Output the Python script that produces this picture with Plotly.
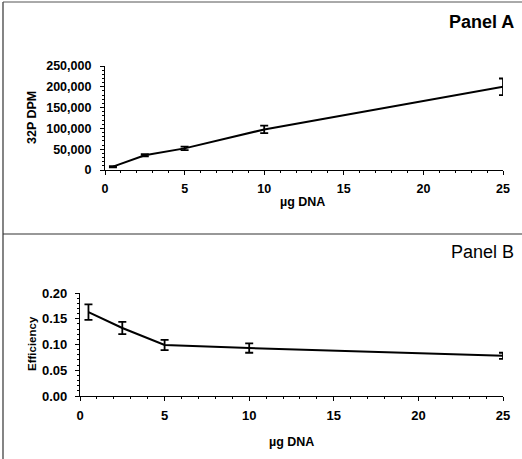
import plotly.graph_objects as go

# Panel A data
dna_a = [0.5, 2.5, 5, 10, 25]
dpm = [8000, 35500, 52000, 97500, 200000]
dpm_err = [1500, 2500, 4000, 9000, 20000]

# Panel B data
dna_b = [0.5, 2.5, 5, 10, 25]
eff = [0.163, 0.132, 0.099, 0.093, 0.078]
eff_err = [0.015, 0.012, 0.010, 0.009, 0.006]

W, H = 522, 459
FONT = "Liberation Sans, Arial, sans-serif"

fig = go.Figure()
fig.add_trace(go.Scatter(
    x=dna_a, y=dpm, mode="lines", line=dict(color="black", width=2),
    error_y=dict(type="data", array=dpm_err, color="black", thickness=1.8, width=4),
    xaxis="x", yaxis="y", showlegend=False))
fig.add_trace(go.Scatter(
    x=dna_b, y=eff, mode="lines", line=dict(color="black", width=2),
    error_y=dict(type="data", array=eff_err, color="black", thickness=1.8, width=4),
    xaxis="x2", yaxis="y2", showlegend=False))

def px_x(p):
    return p / W

def px_y(p):
    return (H - p) / H

def tf(size):
    return dict(family=FONT, size=size, color="black", weight="bold")

def xaxis_cfg(lo, hi, anchor, size):
    return dict(domain=[px_x(lo), px_x(hi)], anchor=anchor,
                range=[0, 25], dtick=5, tick0=0, showgrid=False, zeroline=False,
                showline=True, linecolor="black", linewidth=1.2,
                ticks="outside", ticklen=4, tickcolor="black", tickfont=tf(size),
                ticklabelstandoff=3,
                minor=dict(dtick=1, ticks="outside", ticklen=2, tickcolor="black"))

shapes = [
    dict(type="line", xref="paper", yref="paper", x0=px_x(3), x1=px_x(3),
         y0=0, y1=px_y(2), line=dict(color="#333", width=1.2)),
    dict(type="line", xref="paper", yref="paper", x0=px_x(3), x1=1,
         y0=px_y(2), y1=px_y(2), line=dict(color="#555", width=1)),
    dict(type="line", xref="paper", yref="paper", x0=px_x(3), x1=1,
         y0=px_y(234), y1=px_y(234), line=dict(color="#333", width=1.2)),
]

def ann(text, x, y, size, angle=0, bold=True, xanchor="center"):
    f = dict(family=FONT, size=size, color="black")
    if bold:
        f["weight"] = "bold"
    return dict(text=text, x=px_x(x), y=px_y(y), xref="paper", yref="paper",
                xanchor=xanchor, yanchor="middle", showarrow=False,
                textangle=angle, font=f)

fig.update_layout(
    width=W, height=H, margin=dict(l=0, r=0, t=0, b=0, autoexpand=False),
    paper_bgcolor="white", plot_bgcolor="white",
    xaxis=xaxis_cfg(105, 503, "y", 12.5),
    yaxis=dict(domain=[px_y(170), px_y(66)], anchor="x", range=[0, 250000],
               dtick=50000, tickformat=",", showgrid=False, zeroline=False,
               showline=True, linecolor="black", linewidth=1.2,
               ticks="outside", ticklen=4, tickcolor="black", tickfont=tf(12.5),
               ticklabelstandoff=6,
               minor=dict(dtick=10000, ticks="outside", ticklen=2, tickcolor="black")),
    xaxis2=xaxis_cfg(80, 503, "y2", 13),
    yaxis2=dict(domain=[px_y(396), px_y(293)], anchor="x2", range=[0, 0.2],
                dtick=0.05, tickformat=".2f", showgrid=False, zeroline=False,
                showline=True, linecolor="black", linewidth=1.2,
                ticks="outside", ticklen=4, tickcolor="black", tickfont=tf(13),
                ticklabelstandoff=5,
                minor=dict(dtick=0.01, ticks="outside", ticklen=2, tickcolor="black")),
    annotations=[
        ann("Panel A", 516, 22, 18, xanchor="right"),
        ann("Panel B", 516, 252, 18, bold=False, xanchor="right"),
        ann("µg DNA", 302, 202, 12.5),
        ann("32P DPM", 32, 118, 12.5, angle=-90),
        ann("µg DNA", 291, 442, 12.5),
        ann("Efficiency", 32, 344, 11.5, angle=-90),
    ],
    shapes=shapes,
)

fig.write_html("out.html")
